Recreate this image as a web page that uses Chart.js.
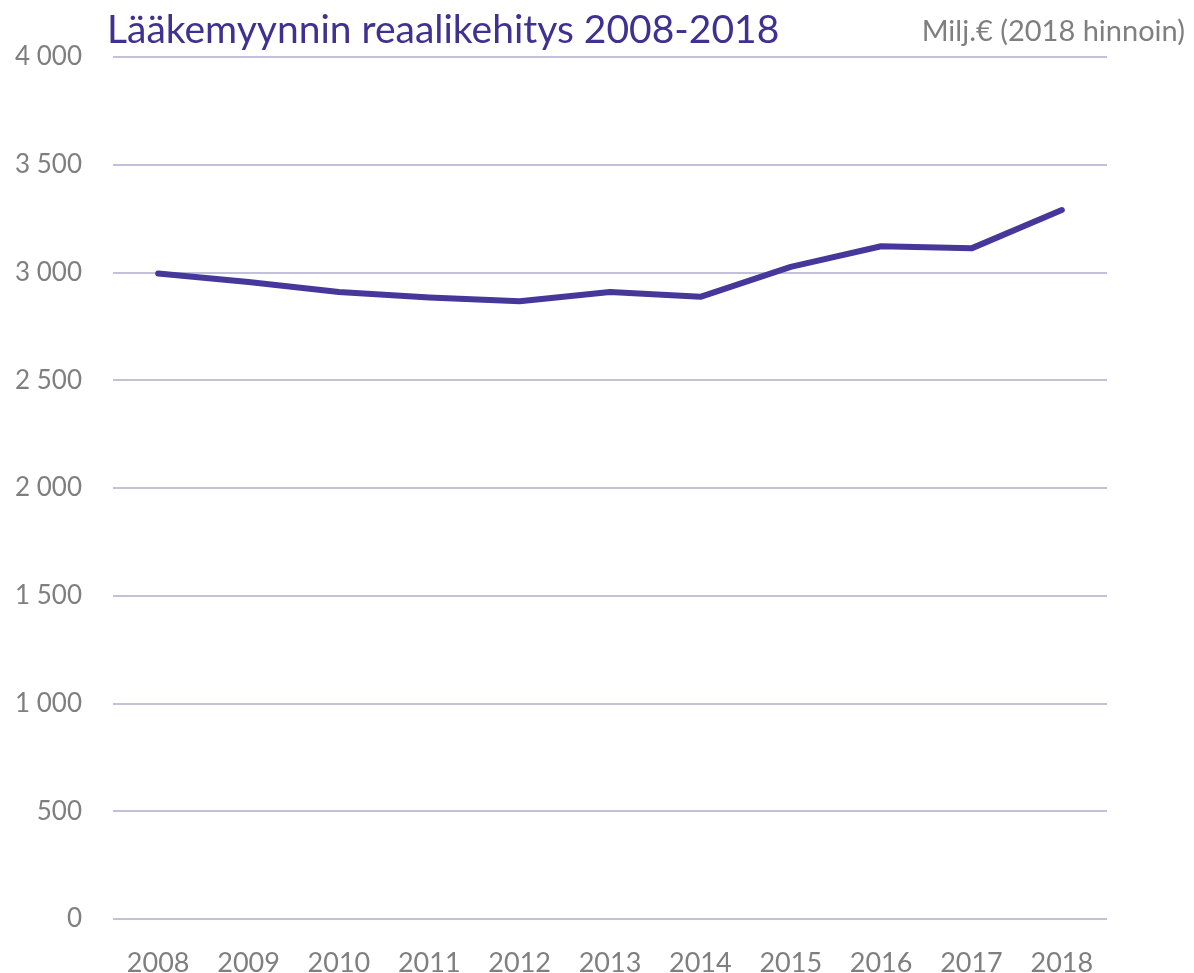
<!DOCTYPE html>
<html>
<head>
<meta charset="utf-8">
<script src="https://cdn.jsdelivr.net/npm/chart.js@4"></script>
<style>
  body { margin: 0; background: #fff; }
  #wrap { position: relative; width: 1194px; height: 973px; }
  #title {
    position: absolute; left: 107px; top: 5px;
    font: 39px Lato, sans-serif; color: #3f3190; line-height: 46px;
    white-space: nowrap;
  }
  #unit {
    position: absolute; right: 9px; top: 13px;
    font: 29px Lato, sans-serif; color: #7f7f7f; line-height: 34px;
    white-space: nowrap;
  }
</style>
</head>
<body>
<div id="wrap">
  <canvas id="chart" width="1194" height="973"></canvas>
  <div id="title">Lääkemyynnin reaalikehitys 2008-2018</div>
  <div id="unit">Milj.€ (2018 hinnoin)</div>
</div>
<script>
let vuodet = ["2008", "2009", "2010", "2011", "2012", "2013", "2014", "2015", "2016", "2017", "2018"];
let myynti = [2995, 2956, 2910, 2884, 2867, 2910, 2887, 3026, 3122, 3112, 3290];

let yMin = 0;
let yMax = 4000;
let yStep = 500;

function muotoile(v) {
    return v.toString().replace(/\B(?=(\d{3})+(?!\d))/g, " ");
}

let ctx = document.getElementById("chart").getContext("2d");
let chart = new Chart(ctx, {
    type: "line",
    data: {
        labels: vuodet,
        datasets: [{
            data: myynti,
            borderColor: "#46389a",
            borderWidth: 6,
            pointRadius: 0,
            tension: 0,
            borderCapStyle: "round",
            borderJoinStyle: "round"
        }]
    },
    options: {
        responsive: false,
        animation: false,
        layout: { padding: { top: 57, right: 87, left: 0, bottom: 0 } },
        plugins: { legend: { display: false }, tooltip: { enabled: false } },
        scales: {
            x: {
                offset: true,
                grid: { display: false },
                border: { display: false },
                ticks: { color: "#7f7f7f", font: { family: "Lato", size: 27 }, maxRotation: 0, padding: 20 },
                afterFit: (s) => { s.height = 973 - 919; }
            },
            y: {
                min: yMin,
                max: yMax,
                grid: { color: "#c3c0da", lineWidth: 2, drawTicks: false },
                border: { display: false },
                ticks: {
                    stepSize: yStep,
                    color: "#7f7f7f",
                    font: { family: "Lato", size: 26 },
                    padding: 31,
                    callback: (v) => muotoile(v)
                },
                afterFit: (s) => { s.width = 113; }
            }
        }
    }
});
</script>
</body>
</html>
